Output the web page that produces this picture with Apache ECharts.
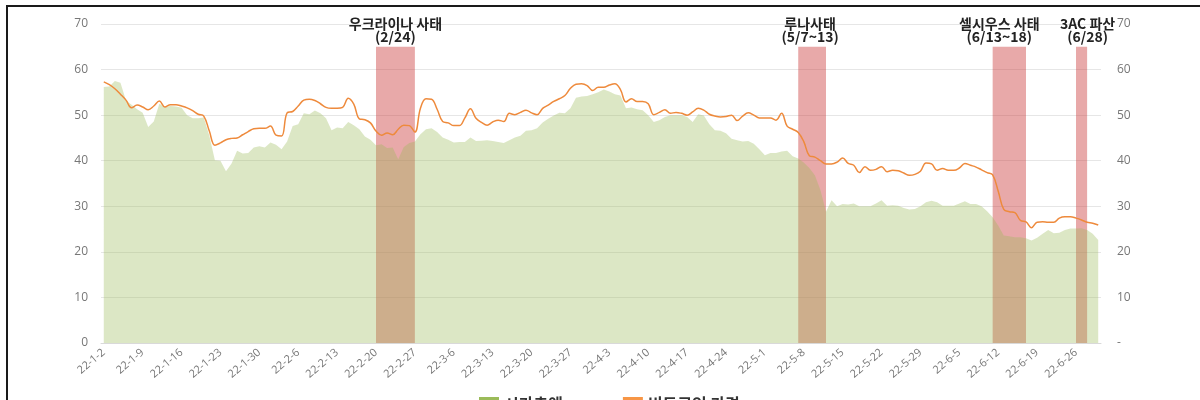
<!DOCTYPE html>
<html>
<head>
<meta charset="utf-8">
<script src="https://cdn.jsdelivr.net/npm/echarts@6/dist/echarts.min.js"></script>
<style>
  html, body { margin: 0; padding: 0; overflow: hidden; background: #fff; }
  #chart { width: 1200px; height: 400px; }
  #frame { position: absolute; left: 6px; top: 5px; width: 1400px; height: 600px;
           border-left: 2px solid #1a1a1a; border-top: 2px solid #1a1a1a; pointer-events: none; }
</style>
</head>
<body>
<div id="chart"></div>
<div id="frame"></div>
<script>
// 2022-01-02 ~ 2022-06-30, daily
var categories = [];
(function () {
    var d = new Date(2022, 0, 2);
    for (var i = 0; i < 180; i++) {
        categories.push('22-' + (d.getMonth() + 1) + '-' + d.getDate());
        d.setDate(d.getDate() + 1);
    }
})();

// 시가총액 (left axis)
var marketCap = [
    56.2, 56.3, 57.5, 57.1, 53.2, 52.3, 51.3, 50.5, 47.4, 48.6,
    52.5, 51.8, 52.0, 51.9, 51.6, 50.0, 49.3, 49.3, 49.5, 45.5,
    40.1, 40.0, 37.7, 39.4, 42.2, 41.6, 41.7, 42.9, 43.2, 42.9,
    44.0, 43.5, 42.5, 44.2, 47.6, 48.0, 50.4, 50.2, 51.0, 50.4,
    49.3, 46.7, 47.3, 47.1, 48.5, 47.8, 46.9, 45.3, 44.6, 43.4,
    43.6, 42.8, 42.9, 40.3, 43.0, 43.9, 44.2, 45.8, 46.9, 47.1,
    46.3, 45.1, 44.6, 44.0, 44.1, 44.1, 45.1, 44.3, 44.4, 44.5,
    44.3, 44.1, 43.9, 44.5, 45.1, 45.5, 46.6, 46.7, 47.1, 48.4,
    49.2, 49.9, 50.5, 50.4, 51.5, 53.8, 54.1, 54.2, 54.6, 55.0,
    55.6, 55.2, 54.6, 54.3, 51.5, 51.7, 51.3, 51.1, 50.0, 48.5,
    48.9, 49.6, 50.0, 50.0, 50.0, 49.6, 48.5, 50.2, 49.9, 48.0,
    46.7, 46.6, 46.0, 44.8, 44.5, 44.2, 44.3, 43.7, 42.5, 41.2,
    41.7, 41.7, 42.0, 42.2, 41.0, 40.5, 39.6, 38.4, 36.8, 33.6,
    28.8, 31.3, 30.0, 30.5, 30.4, 30.6, 30.0, 30.0, 30.0, 30.6,
    31.3, 30.1, 30.2, 30.1, 29.6, 29.3, 29.4, 30.0, 30.9, 31.2,
    30.9, 30.1, 30.1, 30.1, 30.6, 31.1, 30.5, 30.5, 30.0, 28.9,
    27.6, 25.8, 23.6, 23.4, 23.2, 23.2, 23.0, 22.5, 23.1, 24.0,
    24.8, 24.1, 24.2, 24.8, 25.1, 25.1, 25.2, 24.8, 24.0, 22.6
];

// 비트코인 가격 (right axis)
var btcPrice = [
    57.3, 56.7, 55.8, 54.6, 53.3, 51.6, 52.2, 51.8, 51.2, 52.0,
    53.1, 51.8, 52.3, 52.3, 52.0, 51.6, 51.0, 50.2, 49.8, 46.5,
    43.4, 43.9, 44.6, 44.9, 45.0, 45.7, 46.4, 47.0, 47.1, 47.1,
    47.6, 45.6, 45.4, 50.5, 50.8, 52.0, 53.3, 53.5, 53.2, 52.5,
    51.7, 51.5, 51.5, 51.7, 53.7, 52.4, 49.2, 49.0, 48.3, 46.5,
    45.6, 46.1, 45.7, 46.9, 47.8, 47.7, 46.3, 51.5, 53.6, 53.5,
    51.3, 48.6, 48.3, 47.7, 47.7, 49.4, 51.4, 49.3, 48.4, 47.8,
    48.5, 48.9, 48.6, 50.4, 50.1, 50.6, 51.1, 50.5, 50.1, 51.5,
    52.2, 53.0, 53.6, 54.3, 55.9, 56.8, 56.9, 56.5, 55.4, 56.1,
    56.1, 56.6, 56.9, 55.6, 52.9, 53.6, 53.0, 53.0, 52.5, 50.1,
    50.6, 51.2, 50.4, 50.6, 50.4, 50.0, 50.7, 51.5, 51.1, 50.2,
    49.8, 49.6, 49.7, 50.0, 48.8, 49.8, 50.5, 50.0, 49.4, 49.4,
    49.4, 48.9, 50.4, 47.6, 46.9, 46.2, 44.2, 41.1, 40.8, 40.0,
    39.3, 39.3, 39.7, 40.6, 39.4, 39.0, 37.4, 38.7, 37.9, 38.1,
    38.7, 37.6, 37.9, 37.8, 37.3, 36.8, 37.0, 37.7, 39.5, 39.3,
    37.9, 38.3, 37.9, 37.9, 38.4, 39.4, 39.0, 38.6, 38.0, 37.4,
    36.9, 33.3, 29.3, 28.8, 28.6, 26.9, 26.6, 25.3, 26.5, 26.6,
    26.5, 26.5, 27.4, 27.7, 27.7, 27.4, 27.0, 26.5, 26.3, 25.9
];

// 사건 구간
var eventNames = ['우크라이나 사태\n(2/24)', '루나사태\n(5/7~13)', '셀시우스 사태\n(6/13~18)', '3AC 파산\n(6/28)'];
var eventStart = ['22-2-20', '22-5-7', '22-6-11', '22-6-26'];
var eventEnd = ['22-2-27', '22-5-12', '22-6-17', '22-6-28'];
var eventLabelShift = [0, -2, -10, 6];
var bandTop = 65;

var chart = echarts.init(document.getElementById('chart'));

var bands = eventNames.map(function (name, i) {
    return [
        { name: name, xAxis: eventStart[i], yAxis: 0, label: { offset: [eventLabelShift[i], 0] } },
        { xAxis: eventEnd[i], yAxis: bandTop }
    ];
});

var axisLabelStyle = { color: '#777', fontSize: 12, fontFamily: 'Open Sans' };

chart.setOption({
    animation: false,
    grid: { left: 101, right: 99, top: 24, bottom: 57 },
    legend: {
        left: 474,
        top: 391,
        itemWidth: 20,
        itemHeight: 14,
        itemGap: 60,
        textStyle: { fontSize: 16, fontWeight: 'bold', color: '#333', fontFamily: 'Noto Sans CJK KR' },
        data: [
            { name: '시가총액', icon: 'rect', itemStyle: { color: '#9bbb59' } },
            { name: '비트코인 가격', icon: 'rect', itemStyle: { color: '#f79646' } }
        ]
    },
    xAxis: {
        type: 'category',
        data: categories,
        boundaryGap: true,
        axisLine: { lineStyle: { color: '#d9d9d9' } },
        axisTick: { interval: 6, length: 5, lineStyle: { color: '#d9d9d9' } },
        axisLabel: { interval: 6, rotate: 40, color: '#777', fontSize: 11, fontFamily: 'Open Sans', margin: 8 },
        splitLine: { show: false }
    },
    yAxis: [
        {
            type: 'value', min: 0, max: 70, interval: 10,
            axisLine: { show: false }, axisTick: { show: false },
            axisLabel: Object.assign({ margin: 13 }, axisLabelStyle),
            splitLine: { lineStyle: { color: '#e6e6e6' } }
        },
        {
            type: 'value', min: 0, max: 70, interval: 10, position: 'right',
            axisLine: { show: false }, axisTick: { show: false },
            axisLabel: Object.assign({
                margin: 16,
                formatter: function (v) { return v === 0 ? '-' : v; }
            }, axisLabelStyle),
            splitLine: { show: false }
        }
    ],
    series: [
        {
            name: '시가총액',
            type: 'line',
            data: marketCap,
            yAxisIndex: 0,
            showSymbol: false,
            color: '#9bbb59',
            lineStyle: { width: 0 },
            areaStyle: { color: '#9bbb59', opacity: 0.35 },
            z: 1,
            markArea: {
                silent: true,
                itemStyle: { color: 'rgba(204,65,65,0.45)' },
                label: {
                    show: true,
                    position: 'top',
                    distance: 4,
                    color: '#222',
                    fontSize: 14,
                    fontWeight: 'bold',
                    lineHeight: 13,
                    align: 'center',
                    fontFamily: 'Noto Sans CJK KR'
                },
                data: bands
            }
        },
        {
            name: '비트코인 가격',
            type: 'line',
            data: btcPrice,
            yAxisIndex: 1,
            showSymbol: false,
            smooth: 0.4,
            color: '#f79646',
            lineStyle: { width: 1.5, color: '#ee8a3c' },
            z: 5
        }
    ]
});
</script>
</body>
</html>
